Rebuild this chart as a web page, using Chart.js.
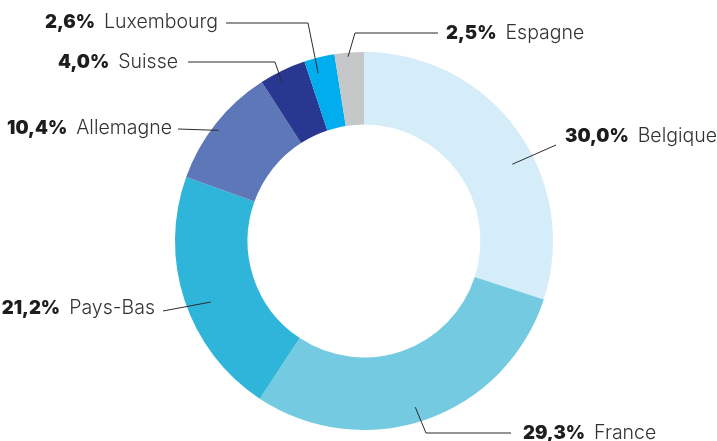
<!DOCTYPE html>
<html><head><meta charset="utf-8">
<script src="https://cdn.jsdelivr.net/npm/chart.js@4/dist/chart.umd.min.js"></script>
<style>html,body{margin:0;padding:0;background:#fff}#wrap{width:717px;height:441px;position:relative}</style>
</head><body><div id="wrap"><canvas id="c"></canvas></div>
<script>
const categories = ['Belgique','France','Pays-Bas','Allemagne','Suisse','Luxembourg','Espagne'];
const values = [30.0, 29.3, 21.2, 10.4, 4.0, 2.6, 2.5];
const valueLabels = ['30,0%','29,3%','21,2%','10,4%','4,0%','2,6%','2,5%'];
const colors = ['#d5ecf9','#74cae0','#2fb5da','#5e77b9','#283890','#00adee','#c6c7c9'];

// leader-line layout, relative to the doughnut centre
const labelLayout = [
  {t:0.58, r:167, path:[[192,-96]], text:[201,-105], align:'left'},
  {t:0.52, r:174, path:[[62,192],[147,192]], text:[159,192], align:'left'},
  {t:0.456, r:165, path:[[-201,70]], text:[-209,67], align:'right'},
  {t:0.465, r:183, path:[[-186,-112]], text:[-192,-113], align:'right'},
  {t:0.375, r:178, path:[[-89,-179],[-176,-179]], text:[-186,-179], align:'right'},
  {t:0.33, r:174, path:[[-56,-218],[-138,-218]], text:[-146,-219], align:'right'},
  {t:0.45, r:185, path:[[-9,-208],[74,-208]], text:[82,-208], align:'left'}
];

const BOLD = '900 18.5px Inter';
const REG = '300 19.5px Inter';
const GAP = 9;

const leaderPlugin = {
  id:'leaders',
  afterDraw(chart){
    const ctx = chart.ctx;
    const meta = chart.getDatasetMeta(0);
    meta.data.forEach((arc,i)=>{
      const p = arc.getProps(['x','y','startAngle','endAngle'], true);
      const L = labelLayout[i];
      const a = p.startAngle + (p.endAngle-p.startAngle)*L.t;
      ctx.save();
      ctx.strokeStyle = '#2b2b2b';
      ctx.lineWidth = 1;
      ctx.beginPath();
      ctx.moveTo(p.x + Math.cos(a)*L.r, p.y + Math.sin(a)*L.r);
      L.path.forEach(pt=>ctx.lineTo(p.x+pt[0], p.y+pt[1]));
      ctx.stroke();
      ctx.textBaseline = 'middle';
      ctx.textAlign = 'left';
      ctx.font = BOLD; const wb = ctx.measureText(valueLabels[i]).width;
      ctx.font = REG; const wn = ctx.measureText(categories[i]).width;
      let x = p.x + L.text[0];
      const y = p.y + L.text[1];
      if (L.align==='right') x -= wb + GAP + wn;
      ctx.font = BOLD; ctx.fillStyle = '#1f1c1d';
      ctx.fillText(valueLabels[i], x, y);
      ctx.font = REG; ctx.fillStyle = '#333333';
      ctx.fillText(categories[i], x + wb + GAP, y);
      ctx.restore();
    });
  }
};

new Chart(document.getElementById('c'), {
  type:'doughnut',
  data:{labels:categories, datasets:[{data:values, backgroundColor:colors, borderWidth:0, hoverOffset:0}]},
  options:{
    responsive:true, maintainAspectRatio:false, animation:false,
    cutout:'61.6%',
    layout:{padding:{left:175, right:164, top:52, bottom:11}},
    plugins:{legend:{display:false}, tooltip:{enabled:false}}
  },
  plugins:[leaderPlugin]
});
</script></body></html>
